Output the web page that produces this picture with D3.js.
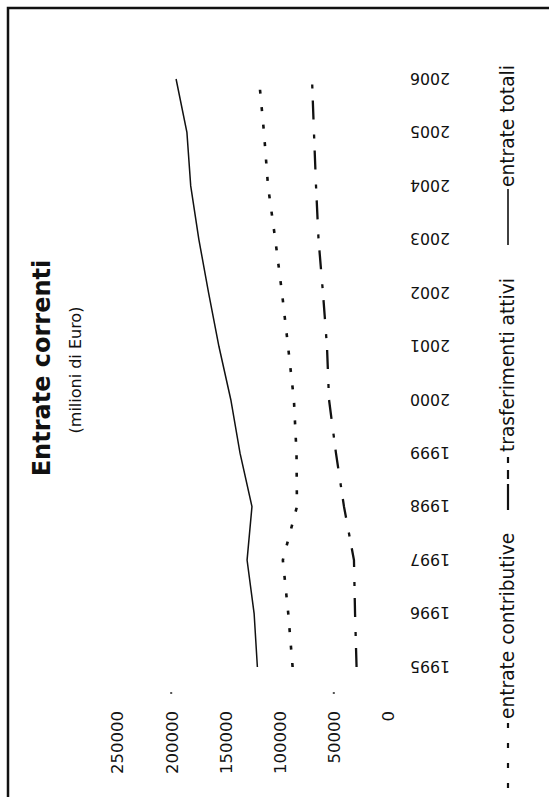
<!DOCTYPE html>
<html>
<head>
<meta charset="utf-8">
<script src="https://cdn.jsdelivr.net/npm/d3@7"></script>
<style>
  html, body { margin: 0; padding: 0; background: #fff; }
  svg { display: block; }
  text { font-family: "DejaVu Sans", Verdana, sans-serif; fill: #111; }
</style>
</head>
<body>
<svg id="chart" width="549" height="800"></svg>
<script>
// Entrate correnti, milioni di Euro
const years = [1995, 1996, 1997, 1998, 1999, 2000, 2001, 2002, 2003, 2004, 2005, 2006];
const entrateContributive = [88000, 92000, 97000, 84000, 84400, 86800, 92200, 97800, 104000, 110700, 114400, 119000];
const trasferimentiAttivi = [29000, 30400, 31400, 40600, 48000, 54400, 56300, 60000, 64100, 66400, 68300, 70100];
const entrateTotali = [120500, 123500, 130000, 125500, 136500, 145000, 156000, 165500, 174500, 182000, 185500, 195500];
const valueTicks = [0, 50000, 100000, 150000, 200000, 250000];
const seriesNames = ["entrate contributive", "trasferimenti attivi", "entrate totali"];
const titleText = "Entrate correnti";
const subtitleText = "(milioni di Euro)";

const svg = d3.select("#chart");
svg.append("rect").attr("width", 549).attr("height", 800).attr("fill", "#fff");

// frame around the page
svg.append("path")
  .attr("d", "M8,797 L8,8 L549,8")
  .attr("fill", "none")
  .attr("stroke", "#111")
  .attr("stroke-width", 2.5);

// the whole chart is laid out in a landscape frame and turned a quarter turn
const g = svg.append("g").attr("transform", "translate(0,800) rotate(-90)");

const x = d3.scalePoint().domain(years).range([133, 721]);
const y = d3.scaleLinear().domain([0, 250000]).range([388, 117]);

// title
g.append("text")
  .attr("x", 432).attr("y", 50)
  .attr("text-anchor", "middle")
  .style("font-size", "24px").style("font-weight", "bold")
  .text(titleText);
g.append("text")
  .attr("x", 430).attr("y", 81)
  .attr("text-anchor", "middle")
  .style("font-size", "16px")
  .text(subtitleText);

// value axis (labels only)
const yAxis = g.append("g")
  .attr("transform", "translate(89,0)")
  .call(d3.axisLeft(y).tickValues(valueTicks).tickSize(0).tickPadding(0).tickFormat(d3.format("d")));
yAxis.select(".domain").remove();
yAxis.selectAll("text")
  .attr("dy", "0.36em")
  .style("font-size", "16.5px")
  .style("font-family", "'DejaVu Sans', sans-serif")
  .attr("fill", "#111");

// small residual tick marks below the plot
g.append("g").selectAll("rect")
  .data([200000, 50000])
  .join("rect")
  .attr("x", 106).attr("y", d => y(d) - 1)
  .attr("width", 2).attr("height", 2)
  .attr("fill", "#555");

// year axis (labels only)
const xAxis = g.append("g")
  .attr("transform", "translate(0,388)")
  .call(d3.axisBottom(x).tickSize(0).tickPadding(0).tickFormat(d3.format("d")));
xAxis.select(".domain").remove();
xAxis.selectAll("text")
  .attr("transform", "rotate(-90)")
  .attr("x", -22).attr("y", 0)
  .attr("dy", "0.36em")
  .attr("text-anchor", "end")
  .style("font-size", "15.7px")
  .style("font-family", "'DejaVu Sans', sans-serif")
  .attr("fill", "#111");

// series lines
const line = d3.line().x(d => x(d[0])).y(d => y(d[1]));
const series = [
  { values: entrateContributive, dash: "4,13.5", width: 2.6 },
  { values: trasferimentiAttivi, dash: "19,12,4,15", width: 2.3 },
  { values: entrateTotali, dash: null, width: 1.5 }
];
series.forEach(s => {
  g.append("path")
    .datum(years.map((yr, i) => [yr, s.values[i]]))
    .attr("d", line)
    .attr("fill", "none")
    .attr("stroke", "#111")
    .attr("stroke-width", s.width)
    .attr("stroke-dasharray", s.dash);
});

// legend
const legendItems = [
  { name: seriesNames[0], x0: 12, x1: 78, dash: "5,15", width: 2.2, tx: 81 },
  { name: seriesNames[1], x0: 290, x1: 343, dash: "26,5,9,7,6,100", width: 2.2, tx: 348 },
  { name: seriesNames[2], x0: 555, x1: 611, dash: null, width: 1.6, tx: 613 }
];
const legend = g.append("g");
legendItems.forEach(it => {
  legend.append("line")
    .attr("x1", it.x0).attr("x2", it.x1)
    .attr("y1", 508).attr("y2", 508)
    .attr("stroke", "#111")
    .attr("stroke-width", it.width)
    .attr("stroke-dasharray", it.dash);
  legend.append("text")
    .attr("x", it.tx).attr("y", 514)
    .style("font-size", "18.6px")
    .text(it.name);
});
</script>
</body>
</html>
